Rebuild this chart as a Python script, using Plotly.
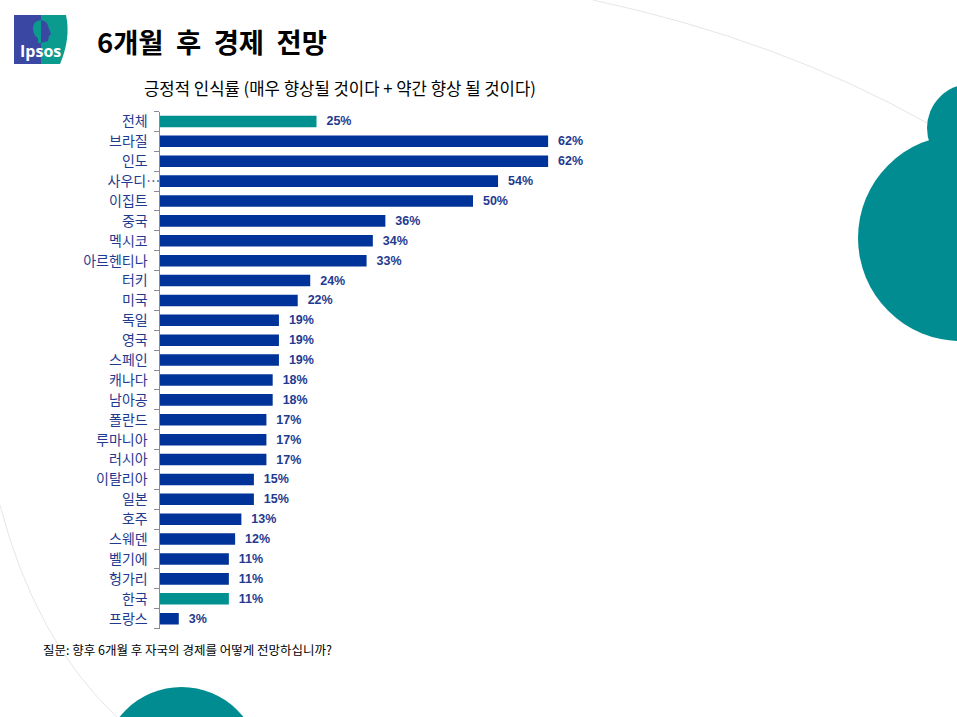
import plotly.graph_objects as go

categories = ["전체", "브라질", "인도", "사우디…", "이집트", "중국", "멕시코", "아르헨티나", "터키", "미국",
              "독일", "영국", "스페인", "캐나다", "남아공", "폴란드", "루마니아", "러시아", "이탈리아", "일본",
              "호주", "스웨덴", "벨기에", "헝가리", "한국", "프랑스"]
values = [25, 62, 62, 54, 50, 36, 34, 33, 24, 22, 19, 19, 19, 18, 18, 17, 17, 17, 15, 15, 13, 12, 11, 11, 11, 3]
highlighted = ["전체", "한국"]
title_text = "6개월 후 경제 전망"
subtitle_text = "긍정적 인식률 (매우 향상될 것이다 + 약간 향상 될 것이다)"
footer_text = "질문: 향후 6개월 후 자국의 경제를 어떻게 전망하십니까?"

W, H = 957, 717
BLUE, TEAL, DECOR = "#003399", "#009090", "#008C91"
LOGO_BLUE, LOGO_TEAL = "#3A48A4", "#0A9A8E"
KR = "Noto Sans CJK KR"

def px(x): return x / W
def py(y): return 1 - y / H

def circle(cx, cy, r, color):
    return dict(type="circle", xref="paper", yref="paper", layer="below", line_width=0, fillcolor=color,
                x0=px(cx - r), x1=px(cx + r), y0=py(cy + r), y1=py(cy - r))

def path(points_d, **kw):
    return dict(type="path", xref="paper", yref="paper", layer="below", path=points_d, **kw)

def P(x, y): return f"{px(x):.5f},{py(y):.5f}"

fig = go.Figure(go.Bar(
    y=categories, x=values, orientation="h",
    marker=dict(color=[TEAL if c in highlighted else BLUE for c in categories], line_width=0),
    text=[f"\u00a0\u00a0{v}%" for v in values], textposition="outside", cliponaxis=False,
    constraintext="none",
    textfont=dict(family="Liberation Sans", size=12.5, color="#1F3A8F", weight="bold"),
    width=0.58,
))

shapes = [
    circle(961, 238, 103, DECOR),
    circle(971, 128, 44, DECOR),
    circle(181.5, 766, 79, DECOR),
    path(f"M{P(593,0)} Q{P(780,40)} {P(927,123)}", line=dict(color="#E6E6E6", width=1)),
    path(f"M{P(0,505)} Q{P(35,640)} {P(117,717)}", line=dict(color="#E6E6E6", width=1)),
    # logo
    path(f"M{P(14,15)} L{P(41,15)} L{P(41,64)} L{P(14,64)} Z", fillcolor=LOGO_BLUE, line_width=0),
    path(f"M{P(41,15)} L{P(66,15)} Q{P(71,38)} {P(60,64)} L{P(41,64)} Z", fillcolor=LOGO_TEAL, line_width=0),
    path(f"M{P(41,20)} Q{P(32,21)} {P(33,30)} Q{P(34,36)} {P(38,38)} L{P(38,43)} L{P(41,43)} Z",
         fillcolor=LOGO_TEAL, line_width=0),
    path(f"M{P(41,20)} Q{P(48,21)} {P(49,29)} L{P(51,34)} L{P(49,36)} L{P(48,41)} L{P(41,43)} Z",
         fillcolor=LOGO_BLUE, line_width=0),
]

annotations = [
    dict(text="<b>Ipsos</b>", x=px(40), y=py(51), font=dict(family="Open Sans", size=16, color="white")),
    dict(text=f"<b>{title_text.replace(' ', chr(160) * 2)}</b>", x=px(212), y=py(41),
         font=dict(family=KR, size=27.4, color="#000000")),
    dict(text=subtitle_text, x=px(339.5), y=py(88), font=dict(family=KR, size=16.7, color="#000000")),
    dict(text=footer_text, x=px(187.5), y=py(649), font=dict(family=KR, size=12.5, color="#000000")),
]
for a in annotations:
    a.update(xref="paper", yref="paper", showarrow=False, xanchor="center", yanchor="middle")

# Labels end 13 px left of the axis; the ellipsis of the truncated label runs up to the axis.
tick_labels = [c if c.endswith("…") else c + "\u00a0" * 4 for c in categories]

fig.update_layout(
    width=W, height=H, autosize=False, margin=dict(l=0, r=0, t=0, b=0),
    paper_bgcolor="white", plot_bgcolor="rgba(0,0,0,0)", showlegend=False,
    shapes=shapes, annotations=annotations,
    xaxis=dict(domain=[px(160), px(786)], range=[0, 100], visible=False),
    yaxis=dict(domain=[py(628.6), py(111.5)], autorange="reversed", type="category",
               categoryorder="array", categoryarray=categories,
               tickmode="array", tickvals=categories, ticktext=tick_labels,
               showline=True, linecolor="#8A8A9A", linewidth=1, showgrid=False,
               ticks="outside", tickson="boundaries", ticklen=5, tickcolor="#8A8A9A", ticklabelstandoff=-4,
               tickfont=dict(family=KR, size=14, color="#1F3A8F")),
)
fig.write_html("out.html", config=dict(displayModeBar=False), post_script="document.body.style.margin='0';")
